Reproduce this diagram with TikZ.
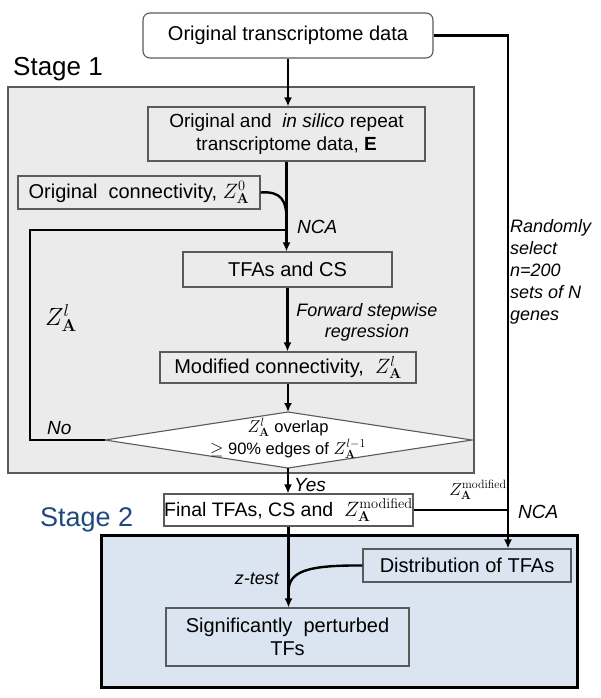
\documentclass[tikz,border=0pt]{standalone}
\usepackage[no-math]{fontspec}
\setmainfont{Liberation Sans}
\usetikzlibrary{arrows.meta}
\definecolor{stagegray}{HTML}{EBEBEB}
\definecolor{stageblue}{HTML}{DBE5F1}
\definecolor{stagetwo}{HTML}{1F497D}
\definecolor{boxedge}{HTML}{5A5A5A}
\newcommand{\fsz}[2]{\fontsize{#1}{#2}\selectfont}
\begin{document}
\begin{tikzpicture}[x=1pt,y=-1pt,
  conn/.style={line width=2.4pt, draw=black},
  arr/.style={conn, -{Latex[length=9pt,width=8pt]}},
  boxs/.style={draw=boxedge, line width=1.1pt, inner sep=0pt, align=center, font=\fsz{20}{23}},
  lbl/.style={font=\fsz{19}{22}\itshape, inner sep=0pt},
]
\useasboundingbox (0,0) rectangle (600,698);
% stage panels
\filldraw[fill=stagegray, draw=boxedge, line width=1.1pt] (8,87) rectangle (474,473);
\filldraw[fill=stageblue, draw=black, line width=3pt] (101,535) rectangle (577,687);
\node[anchor=base west, inner sep=0pt, font=\fsz{26}{30}] (s1) at (13,76) {Stage 1};
\node[anchor=base west, inner sep=0pt, font=\fsz{27}{30}, text=stagetwo] (s2) at (40,526) {Stage 2};
% boxes
\node[boxs, fill=white, rounded corners=7pt, minimum width=290pt, minimum height=45pt] (top) at (288,35.5) {Original transcriptome data};
\node[boxs, fill=stagegray, minimum width=277pt, minimum height=54pt, font=\fsz{19}{23}] (E) at (286.5,134) {Original and \ \textit{in silico} repeat\\transcriptome data, \textbf{E}};
\node[boxs, fill=stagegray, minimum width=242pt, minimum height=33pt] (orig) at (139,192.5) {Original\ \ connectivity, $Z^{0}_{\mathbf{A}}$};
\node[boxs, fill=stagegray, minimum width=209pt, minimum height=35pt] (tfa) at (287.5,269.5) {TFAs and CS};
\node[boxs, fill=stagegray, minimum width=256pt, minimum height=31pt] (mod) at (288,367.5) {Modified connectivity,\ \ $Z^{l}_{\mathbf{A}}$};
% decision diamond
\coordinate (dl) at (105,440);
\coordinate (dt) at (288,412);
\coordinate (dr) at (472,440);
\coordinate (db) at (288,468);
\filldraw[fill=white, draw=boxedge, line width=1.1pt] (dl) -- (dt) -- (dr) -- (db) -- cycle;
\node[font=\fsz{16.5}{22}, align=center, inner sep=0pt] (dtext) at (288,438) {$Z^{l}_{\mathbf{A}}$ overlap\\$\geq$ 90\% edges of $Z^{l-1}_{\mathbf{A}}$};
\node[boxs, fill=white, minimum width=249pt, minimum height=32pt, font=\fsz{19.5}{23}] (final) at (288.5,510) {Final TFAs, CS and\ \ $Z^{\mathrm{modified}}_{\mathbf{A}}$};
\node[boxs, fill=stageblue, minimum width=208pt, minimum height=33pt] (dist) at (467,565.5) {Distribution of TFAs};
\node[boxs, fill=stageblue, minimum width=243pt, minimum height=58pt] (sig) at (287.5,637) {Significantly\ \ perturbed\\TFs};
% connectors
\draw[arr] (top.south) -- (top.south |- E.north);
\draw[arr] (E.south) -- (E.south |- tfa.north);
\draw[arr] (tfa.south) -- (tfa.south |- mod.north);
\draw[arr] (mod.south) -- (dt);
\draw[arr] (db) -- (db |- final.north);
\draw[arr] (final.south) -- (final.south |- sig.north);
\coordinate (lp1) at (30,440);
\coordinate (lp2) at (30,230);
\draw[conn] (dl) -- (lp1) -- (lp2) -- (E.south |- lp2);
\coordinate (m1) at (286.5,220);
\draw[conn] (orig.east) .. controls (281,191) and (286.5,200) .. (m1);
\coordinate (rc) at (508,35);
\draw[arr] (top.east) -- (top.east -| rc) -- (rc |- dist.north);
\draw[conn] (final.east) -- (final.east -| rc);
\coordinate (m2) at (288.5,592);
\draw[conn] (dist.west) .. controls (305,565) and (288.5,572) .. (m2);
% labels
\node[lbl, anchor=west] (ncal) at (297,227) {NCA};
\node[lbl, font=\fsz{18}{21}\itshape, align=center] (fsr) at (367,322) {Forward stepwise\\regression};
\node[inner sep=0pt, font=\fsz{27}{30}] (zl) at (61,318) {$Z^{l}_{\mathbf{A}}$};
\node[lbl, anchor=west] (nol) at (47,428) {No};
\node[lbl, anchor=west] (yesl) at (294,485) {Yes};
\node[inner sep=0pt, font=\fsz{18}{21}] (zmod) at (478,490) {$Z^{\mathrm{modified}}_{\mathbf{A}}$};
\node[lbl, anchor=west] (ncar) at (518,512) {NCA};
\node[lbl, font=\fsz{18}{22}\itshape, anchor=north west, align=left] (rand) at (510,219) {Randomly\\select\\n=200\\sets of N\\genes};
\node[lbl, font=\fsz{18}{21}\itshape, anchor=east] (zt) at (279,579) {z-test};
\end{tikzpicture}
\end{document}
